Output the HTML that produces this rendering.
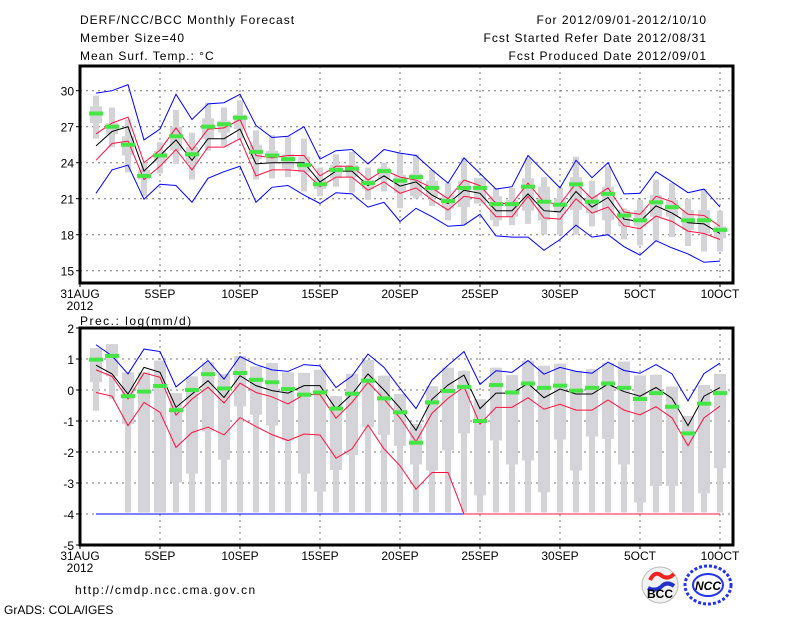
<!DOCTYPE html>
<html><head><meta charset="utf-8"><style>
body{margin:0;background:#fff;width:800px;height:618px;overflow:hidden;font-family:"Liberation Sans",sans-serif}
svg{display:block}
text{font-family:"Liberation Sans",sans-serif;font-size:12px;fill:#000}
.hd{letter-spacing:1px}
</style></head><body>
<svg id="chart" width="800" height="618" viewBox="0 0 800 618">
<text class="hd" x="80" y="24" font-size="13">DERF/NCC/BCC Monthly Forecast</text>
<text class="hd" x="80" y="42" font-size="13">Member Size=40</text>
<text class="hd" x="80" y="60" font-size="13">Mean Surf. Temp.: °C</text>
<text class="hd" x="707" y="24" font-size="13" text-anchor="end">For 2012/09/01-2012/10/10</text>
<text class="hd" x="707" y="42" font-size="13" text-anchor="end">Fcst Started Refer Date 2012/08/31</text>
<text class="hd" x="707" y="60" font-size="13" text-anchor="end">Fcst Produced Date 2012/09/01</text>
<text x="80" y="325" font-size="13" style="letter-spacing:1.5px">Prec.: log(mm/d)</text>
<text x="75" y="594" font-size="13" style="letter-spacing:1.4px">http://cmdp.ncc.cma.gov.cn</text>
<text x="4" y="614" font-size="9">GrADS: COLA/IGES</text>
<g>
<circle cx="660" cy="585" r="18" fill="#f2f2f2" stroke="#bbb"/>
<path d="M650 580 q5 -10 12 -4 q6 4 12 -2" stroke="#e22" stroke-width="4" fill="none"/>
<path d="M648 588 q8 4 14 -2 q5 -5 12 0" stroke="#23c" stroke-width="4" fill="none"/>
<text x="660" y="598" font-size="8" text-anchor="middle" font-weight="bold" fill="#333">BCC</text>
</g>
<g>
<ellipse cx="708" cy="585" rx="23" ry="19" fill="none" stroke="#23e" stroke-width="3" stroke-dasharray="3 2"/>
<ellipse cx="708" cy="585" rx="15" ry="11" fill="none" stroke="#23e" stroke-width="2"/>
<text x="708" y="590" font-size="11" text-anchor="middle" font-weight="bold" fill="#23e" font-style="italic">NCC</text>
</g>
<g id="top"></g><g id="bot"></g>
</svg>
<script>
const days=[1,2,3,4,5,6,7,8,9,10,11,12,13,14,15,16,17,18,19,20,21,22,23,24,25,26,27,28,29,30,31,32,33,34,35,36,37,38,39,40];
const xTickLabels=["31AUG","5SEP","10SEP","15SEP","20SEP","25SEP","30SEP","5OCT","10OCT"];
const xTickDays=[0,5,10,15,20,25,30,35,40];
// temperature
const tMax=[29.8,30.0,30.5,25.9,26.8,29.7,27.6,28.9,29.0,29.7,27.1,26.1,26.2,27.0,24.3,25.0,25.1,23.9,25.1,24.8,24.6,23.4,22.3,24.4,23.1,21.8,22.0,24.6,23.25,21.9,24.2,22.75,24.0,21.4,21.45,23.25,22.4,21.5,21.8,20.3];
const tMin=[21.45,23.4,23.8,20.95,22.2,22.1,20.7,22.7,23.25,23.7,20.7,21.95,22.1,21.3,20.6,21.5,21.4,20.3,20.7,19.1,20.2,19.5,18.7,18.8,19.7,17.9,17.8,17.8,16.7,17.6,18.8,17.8,18.0,17.0,16.3,17.5,16.9,16.4,15.7,15.8];
const tMean=[25.4,26.6,27.0,23.3,24.6,25.9,24.2,26.0,26.0,26.8,23.9,24.0,24.0,24.0,22.4,23.3,23.3,22.1,22.9,22.05,22.4,21.3,20.6,21.7,21.45,20.0,20.0,21.4,20.0,19.9,21.6,20.3,21.1,19.3,19.1,20.4,19.8,19.0,18.9,18.1];
const tUp=[26.4,27.3,27.8,24.0,25.05,26.9,25.05,26.8,26.9,27.6,24.6,24.4,24.6,24.6,22.9,23.7,23.7,22.55,23.4,22.8,22.55,21.9,21.0,22.55,22.1,20.6,20.6,22.3,20.7,20.55,22.3,21.0,21.9,19.9,19.7,21.2,20.75,19.7,19.6,18.7];
const tLo=[24.2,25.6,25.8,22.6,23.7,25.1,23.4,25.3,25.3,26.0,22.9,23.4,23.4,23.3,22.0,22.8,22.8,21.7,22.4,21.45,21.9,20.9,20.05,21.2,21.0,19.5,19.5,21.2,19.4,19.3,21.0,19.8,20.3,18.75,18.5,19.55,19.1,18.3,18.1,17.6];
const tObs=[28.1,27.0,25.5,22.9,24.6,26.2,24.7,27.0,27.2,27.75,24.9,24.6,24.3,23.8,22.2,23.4,23.5,22.3,23.3,22.5,22.8,21.9,20.8,21.9,21.9,20.55,20.55,22.0,20.75,20.5,22.2,20.75,21.4,19.6,19.2,20.7,20.3,19.2,19.2,18.4];
const tWhHi=[29.6,28.6,27.6,24.0,25.7,28.4,26.5,29.0,28.6,29.2,26.7,26.3,26.2,26.0,23.6,24.7,24.9,23.6,24.0,24.8,24.7,23.4,22.3,24.4,22.7,21.9,21.9,24.4,22.8,21.9,24.5,22.5,23.7,20.2,20.9,22.6,22.3,21.0,21.8,20.0];
const tWhLo=[26.0,25.3,23.2,21.2,23.1,23.9,22.6,25.0,25.4,26.0,22.6,22.7,22.8,21.6,21.2,22.0,21.5,20.9,21.6,20.2,21.0,20.4,19.2,18.8,20.6,18.7,18.8,18.9,18.0,18.0,18.0,18.7,18.0,17.6,17.1,17.5,17.8,17.05,16.6,16.6];
const tBxHi=[28.7,27.3,26.2,23.4,25.0,27.0,25.3,27.7,27.5,28.0,25.5,25.0,24.7,24.5,22.7,23.8,23.8,22.6,23.6,23.0,23.1,22.5,21.3,22.5,22.7,21.2,20.9,22.7,22.0,21.0,22.8,21.3,22.0,20.05,20.05,21.3,20.9,20.05,20.05,18.7];
const tBxLo=[27.3,26.4,24.6,22.6,24.0,25.0,24.0,26.0,26.5,26.8,24.3,24.0,23.5,23.2,21.8,22.7,22.8,21.8,22.6,21.5,21.2,21.2,20.2,20.3,20.6,19.2,19.5,20.0,19.2,19.8,20.05,19.8,19.2,18.7,18.7,19.5,19.5,18.4,18.1,17.7];
const tTicks=[15,18,21,24,27,30];
// precipitation
const pMax=[1.46,1.1,0.52,1.32,1.24,0.1,0.52,0.95,0.35,1.08,0.82,0.65,0.6,0.82,0.78,0.08,0.45,1.16,0.73,0.05,-0.6,0.32,0.8,1.24,0.18,0.62,0.57,0.95,0.51,0.73,0.6,0.54,0.9,0.63,0.54,0.82,0.52,-0.35,0.53,0.87];
const pMin=[-4,-4,-4,-4,-4,-4,-4,-4,-4,-4,-4,-4,-4,-4,-4,-4,-4,-4,-4,-4,-4,-4,-4,-4,-4,-4,-4,-4,-4,-4,-4,-4,-4,-4,-4,-4,-4,-4,-4,-4];
const pMean=[0.8,0.52,-0.13,0.73,0.57,-0.56,-0.13,0.3,-0.24,0.46,0.14,-0.02,-0.1,0.14,0.14,-0.61,-0.13,0.52,0.0,-0.58,-1.3,-0.3,0.16,0.48,-0.6,-0.1,-0.1,0.21,-0.25,0.03,-0.13,-0.13,0.19,-0.05,-0.2,0.08,-0.27,-1.15,-0.2,0.08];
const pUp=[0.65,0.44,-0.29,0.55,0.41,-0.81,-0.29,0.09,-0.42,0.22,-0.08,-0.22,-0.45,-0.15,-0.15,-0.91,-0.4,0.25,-0.29,-0.9,-1.67,-0.75,-0.27,0.1,-1.1,-0.56,-0.56,-0.25,-0.62,-0.46,-0.65,-0.65,-0.32,-0.65,-0.8,-0.54,-0.9,-1.8,-0.9,-0.52];
const pLo=[-0.08,-0.2,-1.15,-0.4,-0.72,-1.85,-1.37,-1.2,-1.45,-0.89,-1.18,-1.44,-1.63,-1.42,-1.45,-2.2,-1.9,-1.13,-1.9,-2.44,-3.2,-2.66,-2.66,-4,-4,-4,-4,-4,-4,-4,-4,-4,-4,-4,-4,-4,-4,-4,-4,-4];
const pObs=[0.98,1.1,-0.2,-0.05,0.13,-0.65,0.0,0.51,0.05,0.55,0.33,0.25,0.03,-0.15,-0.08,-0.6,-0.12,0.3,-0.27,-0.72,-1.7,-0.4,-0.03,0.1,-1.0,0.16,-0.08,0.21,0.07,0.14,-0.02,0.07,0.21,0.07,-0.29,-0.1,-0.54,-1.4,-0.44,-0.1];
const pWhHi=[1.35,1.48,0.57,0.57,0.95,-0.1,0.44,0.89,0.52,1.1,0.76,0.87,0.57,0.55,0.65,-0.2,0.52,0.97,0.46,-0.13,-1.1,0.12,0.72,0.62,-0.3,0.72,0.48,0.95,0.78,0.85,0.62,0.67,0.87,0.92,0.47,0.49,0.11,-0.84,0.16,0.52];
const pWhLo=[-0.67,-0.29,-3.95,-3.95,-3.95,-3.95,-3.95,-3.95,-3.95,-3.95,-3.95,-3.95,-3.95,-3.95,-3.95,-3.95,-3.95,-3.95,-3.95,-3.95,-3.95,-3.95,-3.95,-3.95,-3.95,-3.95,-3.95,-3.95,-3.95,-3.95,-3.95,-3.95,-3.95,-3.95,-3.95,-3.95,-3.95,-3.95,-3.95,-3.95];
const pBxHi=pWhHi;
const pBxLo=[0.25,0.44,-1.1,-3.95,-3.95,-2.98,-2.7,-1.34,-2.25,-0.53,-0.8,-1.15,-1.63,-2.7,-3.28,-2.58,-2.1,-1.2,-1.45,-1.8,-2.4,-2.6,-1.95,-1.4,-3.4,-1.63,-2.4,-2.27,-3.3,-1.6,-2.6,-1.5,-1.58,-2.4,-3.63,-3.1,-3.1,-3.95,-3.33,-2.52];
const pTicks=[-5,-4,-3,-2,-1,0,1,2];

const NS="http://www.w3.org/2000/svg";
const X0=80,X1=733;
const xs=d=>80+16*d;
function mk(parent,tag,attrs){const e=document.createElementNS(NS,tag);for(const k in attrs)e.setAttribute(k,attrs[k]);parent.appendChild(e);return e;}
function poly(g,vals,ys,color,name){
  const el=mk(g,'polyline',{points:vals.map((v,i)=>xs(days[i])+','+ys(v)).join(' '),fill:'none',stroke:color,'stroke-width':1});
  
  
}
function panel(g,top,bot,ys,ticks,s,prefix){
  ticks.forEach(t=>{const y=ys(t);
    if(y>top+2&&y<bot-2)mk(g,'line',{x1:X0,x2:X1,y1:y,y2:y,stroke:'#777','stroke-dasharray':'2 4'});
    mk(g,'line',{x1:X0-4,x2:X0,y1:y,y2:y,stroke:'#000'});
    const tl=mk(g,'text',{x:X0-6,y:y+5,'text-anchor':'end','font-size':12});tl.textContent=t;
    
    
  });
  xTickDays.forEach((d,i)=>{const x=xs(d);
    if(d>0&&x<X1-2)mk(g,'line',{x1:x,x2:x,y1:top,y2:bot,stroke:'#777','stroke-dasharray':'2 4'});
    mk(g,'line',{x1:x,x2:x,y1:bot,y2:bot+4,stroke:'#000'});
    const tl=mk(g,'text',{x:x,y:bot+15,'text-anchor':'middle','font-size':11});tl.textContent=xTickLabels[i];
    
    
  });
  const yr=mk(g,'text',{x:xs(0),y:bot+27,'text-anchor':'middle','font-size':11});yr.textContent='2012';
  
  
  days.forEach((d,i)=>{const x=xs(d);
    const w=mk(g,'rect',{x:x-3,y:ys(s.whHi[i]),width:6,height:Math.max(0,ys(s.whLo[i])-ys(s.whHi[i])),fill:'#d4d4d8'});
    
    
    const b=mk(g,'rect',{x:x-6,y:ys(s.bxHi[i]),width:12,height:Math.max(0,ys(s.bxLo[i])-ys(s.bxHi[i])),fill:'#d4d4d8'});
    
    
  });
  poly(g,s.max,ys,'#0000ff',prefix+'-max-line');
  poly(g,s.min,ys,'#0000ff',prefix+'-min-line');
  poly(g,s.up,ys,'#ff1040',prefix+'-upper-line');
  poly(g,s.lo,ys,'#ff1040',prefix+'-lower-line');
  poly(g,s.mean,ys,'#000',prefix+'-mean-line');
  days.forEach((d,i)=>{const x=xs(d);
    const o=mk(g,'rect',{x:x-7,y:ys(s.obs[i])-2,width:14,height:4,fill:'#44e644'});
    
    
  });
  const f=mk(g,'rect',{x:X0,y:top,width:X1-X0,height:bot-top,fill:'none',stroke:'#000','stroke-width':3});
  
  
}
const yT=v=>90.7+(30-v)*12;
const yP=v=>390-v*31;
const gt=document.getElementById('top');


panel(gt,66,283,yT,tTicks,{whHi:tWhHi,whLo:tWhLo,bxHi:tBxHi,bxLo:tBxLo,max:tMax,min:tMin,up:tUp,lo:tLo,mean:tMean,obs:tObs},'temp');
const gb=document.getElementById('bot');


panel(gb,328,545,yP,pTicks,{whHi:pWhHi,whLo:pWhLo,bxHi:pBxHi,bxLo:pBxLo,max:pMax,min:pMin,up:pUp,lo:pLo,mean:pMean,obs:pObs},'prec');
</script>
</body></html>
